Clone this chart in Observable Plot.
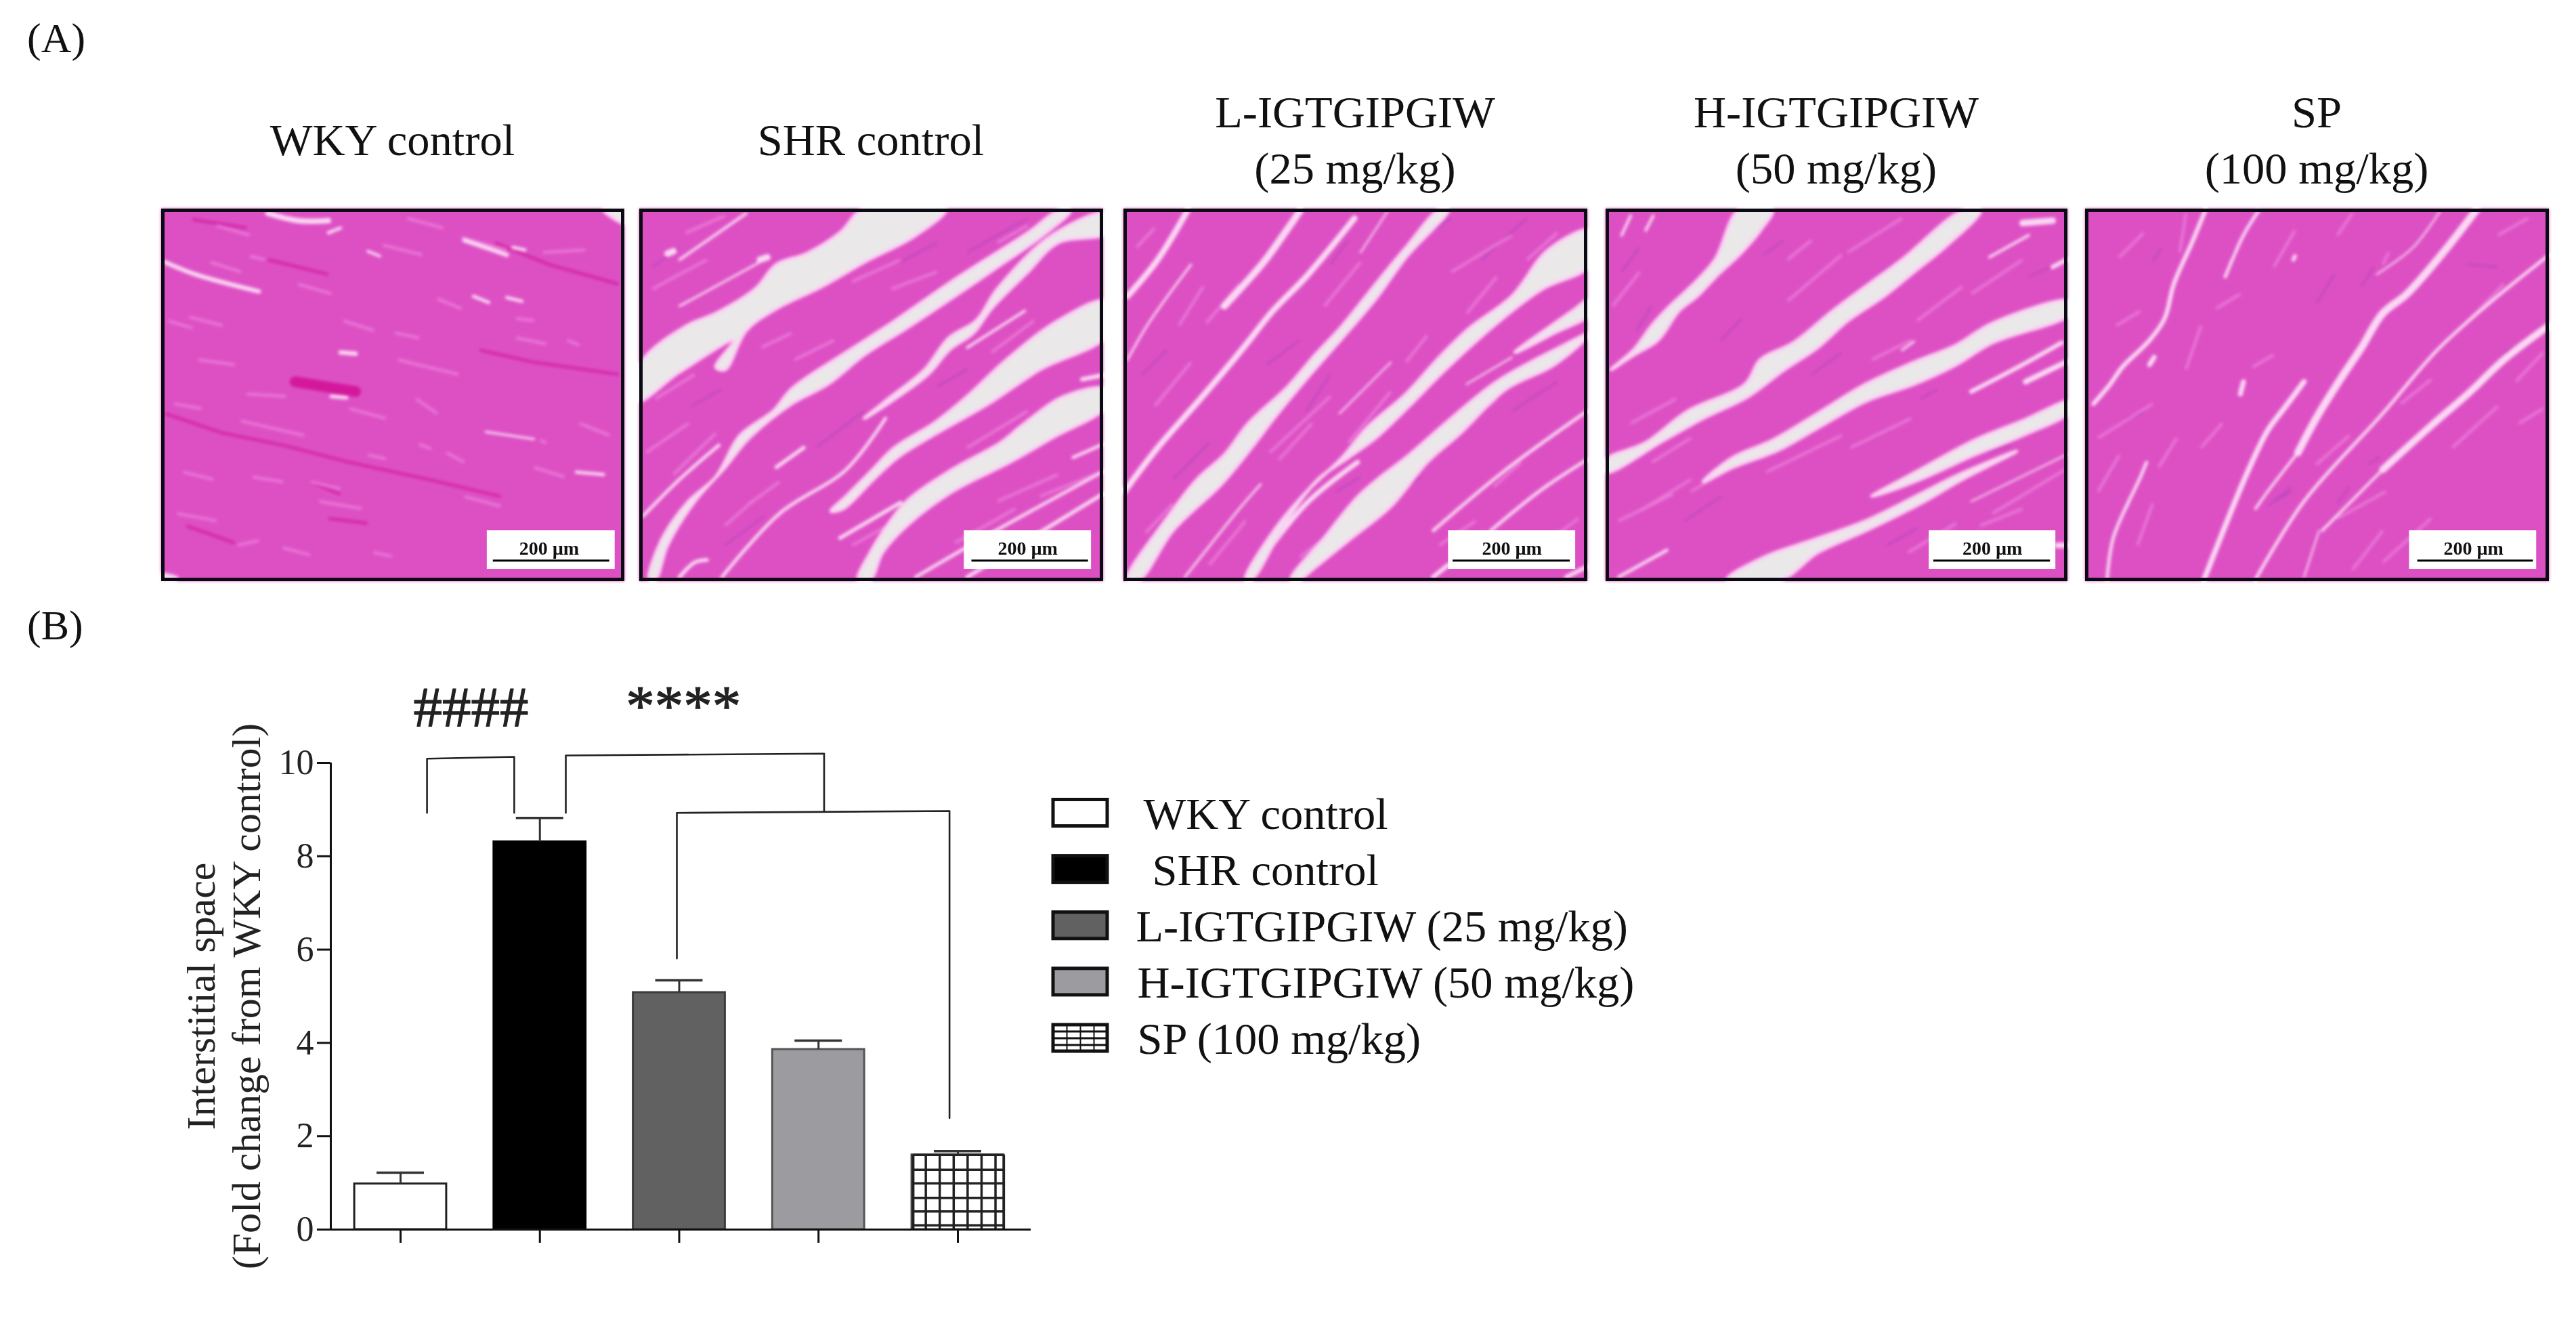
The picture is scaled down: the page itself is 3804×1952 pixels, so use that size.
<!DOCTYPE html>
<html><head><meta charset="utf-8">
<script src="https://cdn.jsdelivr.net/npm/d3@7"></script>
<script src="https://cdn.jsdelivr.net/npm/@observablehq/plot@0.6"></script>
<style>
html,body{margin:0;padding:0;background:#fff;width:3804px;height:1952px;overflow:hidden;font-family:"Liberation Serif",serif;color:#111}
.abs{position:absolute;white-space:nowrap;line-height:1;font-family:"Liberation Serif",serif}
.abs svg,svg{display:block}
</style></head><body>
<script>
// ---------- chart values ----------
const groups = ["WKY control","SHR control","L-IGTGIPGIW (25 mg/kg)","H-IGTGIPGIW (50 mg/kg)","SP (100 mg/kg)"];
const means = [0.98, 8.31, 5.08, 3.86, 1.60];
const upper = [1.22, 8.82, 5.34, 4.05, 1.68];
const barFill = ["#ffffff","#000000","#616161","#9c9ca0","#ffffff"];
const barStroke = ["#222","#000","#3c3c3c","#555","#444"];
const yTicks = [0,2,4,6,8,10];
const hatchX = [3.68,3.77,3.87,3.97,4.07,4.17,4.27,4.33];
const hatchY = [0.09,0.39,0.68,0.99,1.28];
const bracket1 = [[0.19,8.93],[0.19,10.09],[0.816,10.13],[0.816,8.93]];
const bracket2 = [[1.186,8.93],[1.186,10.16],[3.04,10.2],[3.04,8.95]];
const bracket3 = [[1.983,5.81],[1.983,8.93],[3.94,8.97],[3.94,2.39]];
const marks = [{t:"####",x:0.505,y:10.78},{t:"****",x:2.03,y:10.81}];
const yLabels = [{t:"Interstitial space",x:-1.335},{t:"(Fold change from WKY control)",x:-1.01}];
const legendLabels = [" WKY control","  SHR control","L-IGTGIPGIW (25 mg/kg)","H-IGTGIPGIW (50 mg/kg)","SP (100 mg/kg)"];
const legendTextX = [138,151,127,129,129];

// ---------- photo panels ----------
const panelTitles = [["WKY control"],["SHR control"],["L-IGTGIPGIW","(25 mg/kg)"],["H-IGTGIPGIW","(50 mg/kg)"],["SP","(100 mg/kg)"]];
const panelLeft = [238,944,1659,2371,3079];
const panelRight = [921,1628,2343,3052,3763];

const gaps1 = [[[1480,25],[1560,25],[1560,85]],[[10,1520],[70,1535],[10,1550]]];
const gaps2 = [
 [[25,650],[175,500],[270,450],[400,350],[470,250],[570,205],[680,120],[760,20],[1030,20],[930,130],[760,240],[620,340],[470,430],[370,520],[300,680],[270,670],[330,560],[150,690],[10,810]],
 [[1400,30],[1300,120],[1060,310],[850,490],[700,610],[520,760],[460,850],[350,950],[270,1120],[180,1220],[90,1380],[50,1540],[70,1540],[110,1400],[200,1220],[300,1080],[380,960],[520,820],[640,740],[760,620],[900,510],[1070,370],[1200,260],[1350,130],[1440,30]],
 [[1560,40],[1380,130],[1200,350],[1130,480],[1040,550],[960,680],[850,790],[760,880],[970,700],[1040,600],[1120,530],[1180,430],[1300,280],[1400,160],[1560,120]],
 [[1560,400],[1400,480],[1230,640],[1100,790],[990,900],[860,1000],[780,1100],[700,1200],[650,1260],[690,1250],[790,1130],[870,1040],[1000,940],[1170,820],[1340,680],[1560,540]],
 [[1560,760],[1420,790],[1280,910],[1210,980],[1050,1090],[900,1220],[830,1330],[780,1430],[740,1540],[780,1540],[820,1430],[900,1320],[1050,1180],[1240,1060],[1380,960],[1560,830]]
];
const gaps3 = [
 [[1060,25],[1090,25],[950,220],[850,390],[740,550],[620,720],[520,870],[440,1000],[340,1150],[180,1340],[70,1540],[30,1540],[160,1290],[260,1130],[350,1030],[430,900],[560,750],[650,620],[740,500],[850,330],[950,180]],
 [[1560,110],[1560,250],[1400,350],[1260,480],[1080,680],[960,830],[850,960],[760,1040],[660,1130],[560,1290],[440,1540],[420,1540],[520,1330],[630,1170],[740,1040],[820,920],[950,780],[1060,630],[1160,510],[1300,380],[1420,190]],
 [[1560,530],[1440,660],[1280,760],[1130,940],[1020,1060],[900,1240],[760,1380],[640,1500],[600,1540],[570,1540],[680,1370],[800,1190],[960,1030],[1090,890],[1250,730],[1440,600]],
 [[1310,610],[1500,440],[1560,390],[1560,450],[1440,530]]
];
const gaps4 = [
 [[35,680],[110,600],[170,500],[230,420],[300,340],[380,230],[460,25],[570,25],[530,110],[460,210],[390,290],[320,380],[260,440],[190,560],[110,620]],
 [[20,1050],[150,980],[290,850],[480,740],[530,640],[640,570],[770,440],[890,330],[1000,230],[1200,30],[1260,30],[1150,170],[1040,280],[940,380],[820,480],[720,590],[610,680],[490,790],[340,880],[210,970],[20,1100]],
 [[340,1140],[440,1040],[570,970],[720,860],[880,740],[1040,650],[1180,580],[1300,490],[1560,400],[1560,450],[1300,570],[1180,660],[1040,740],[880,810],[720,920],[590,1010],[440,1080]],
 [[420,1540],[540,1450],[700,1380],[880,1300],[1060,1190],[1190,1110],[1380,1015],[1200,1130],[1060,1230],[880,1340],[720,1430],[600,1540]],
 [[900,1200],[1060,1090],[1240,970],[1400,890],[1560,810],[1560,850],[1400,950],[1240,1030],[1060,1130]]
];
const gaps5 = [];

const seams1 = [
 {w:8,p:[[30,240],[130,290],[340,360]]},{w:10,p:[[370,40],[470,70],[570,70]]},{w:8,p:[[1020,150],[1160,210]]},
 {w:6,p:[[570,120],[610,100]]},{w:8,p:[[610,610],[660,615]]},{w:7,p:[[580,790],[630,795]]},{w:6,p:[[1180,180],[1220,190]]},{w:6,p:[[1160,385],[1210,400]]},{w:6,p:[[1050,380],[1100,405]]},{w:5,p:[[700,195],[740,215]]},{w:4,p:[[1090,935],[1250,965]]},{w:6,p:[[1390,1100],[1480,1110]]}
];
const seams2 = [
 {w:6,p:[[30,1280],[150,1130],[280,990]]},{w:5,p:[[150,230],[370,40]]},{w:4,p:[[150,420],[430,230]]},{w:7,p:[[470,1080],[560,1000]]},
 {w:6,p:[[290,1530],[480,1270],[700,1090],[830,880]]},{w:6,p:[[930,1530],[1180,1350],[1560,1090]]},{w:7,p:[[1100,1530],[1560,1180]]},{w:5,p:[[1100,590],[1290,440]]},
 {w:7,p:[[680,1370],[880,1225]]},{w:7,p:[[150,1530],[200,1470],[240,1460]]},{w:8,p:[[1480,720],[1560,700]]},{w:6,p:[[1450,1040],[1560,980]]},{w:12,p:[[110,205],[130,195]]},{w:12,p:[[415,230],[440,220]]}
];
const seams3 = [
 {w:11,p:[[30,380],[130,230],[230,25]]},{w:4,p:[[30,640],[100,490],[240,250]]},{w:11,p:[[20,1180],[130,1000],[250,830],[340,700],[420,580],[510,440],[620,300],[780,60]]},
 {w:13,p:[[350,420],[480,240],[550,120],[600,30]]},{w:3,p:[[800,200],[890,30]]},{w:6,p:[[1040,1340],[1270,1100],[1560,840]]},{w:6,p:[[1230,1340],[1400,1170],[1560,1040]]},
 {w:4,p:[[220,1530],[400,1250],[470,1150]]},{w:3,p:[[1150,740],[1300,630]]},{w:8,p:[[1040,1530],[1090,1480]]},{w:8,p:[[1480,1530],[1560,1480]]},{w:3,p:[[730,860],[900,650]]},{w:9,p:[[430,1530],[620,1230],[790,1060]]}
];
const seams4 = [
 {w:8,p:[[1230,770],[1400,660],[1530,570]]},{w:10,p:[[1410,730],[1560,640]]},{w:3,p:[[1230,1220],[1560,1020]]},{w:6,p:[[60,1530],[220,1420]]},
 {w:5,p:[[1290,220],[1420,130]]},{w:8,p:[[1500,260],[1560,220]]},{w:12,p:[[1400,80],[1500,70]]},{w:5,p:[[70,130],[100,50]]},{w:5,p:[[150,110],[175,50]]},{w:4,p:[[1000,600],[1040,565]]},{w:10,p:[[1515,1400],[1560,1400]]}
];
const seams5 = [
 {w:6,p:[[90,1540],[110,1370],[200,1120],[220,1060]]},{w:8,p:[[415,25],[370,160],[310,330],[280,470],[230,560],[140,670],[100,740],[45,820]]},
 {w:10,p:[[410,1540],[480,1320],[550,1110],[620,930],[680,830],[740,730]]},{w:14,p:[[1310,25],[1200,200],[1080,370],[1000,450],[930,590],[860,720],[780,880],[720,1020]]},{w:5,p:[[720,1020],[620,1180],[580,1250]]},
 {w:6,p:[[580,1540],[740,1220],[1000,860],[1180,600],[1350,410],[1560,200]]},{w:5,p:[[800,1340],[1000,1090]]},{w:13,p:[[1000,1090],[1160,910],[1290,770],[1400,640],[1560,490]]},
 {w:6,p:[[590,30],[540,130],[480,300]]},{w:3,p:[[1190,30],[1100,180],[980,290]]},{w:3,p:[[740,1530],[790,1340]]},{w:4,p:[[130,1300],[160,1230]]},{w:9,p:[[530,780],[540,730]]},{w:9,p:[[230,660],[245,630]]},{w:7,p:[[705,230],[710,215]]}
];

const pale1 = [[110,465,220,500],[180,240,280,280],[310,215,360,230],[750,170,880,210],[790,530,870,550],[930,390,1010,430],[1190,550,1290,575],[1190,470,1250,480],[280,890,490,950],[870,985,910,1005],[510,1140,610,1170],[320,1120,420,1140],[270,1400,340,1380],[420,1410,510,1440],[720,1430,780,1445],[1010,140,1160,190],[470,330,580,370],[700,1030,760,1045],[960,1020,1020,1060],[1270,970,1290,980],[40,480,120,510],[60,820,150,840],[300,780,430,790],[640,840,760,880],[860,800,930,860],[1020,1200,1140,1240],[1250,1080,1350,1120],[90,1100,190,1130],[540,1220,680,1250],[800,640,1000,700],[140,640,260,660],[1280,200,1420,190],[830,60,950,100],[200,90,310,130],[1360,560,1400,580],[620,480,720,520],[70,1270,200,1300],[1400,900,1500,950]];
const dark1 = [[1120,160,1300,250],[1300,250,1530,330],[1070,600,1250,650],[1250,650,1530,700],[30,860,220,940],[220,940,420,990],[420,990,640,1060],[640,1060,900,1130],[100,1320,260,1390],[370,230,570,290],[900,1130,1140,1200],[120,65,300,100],[570,1290,700,1310],[510,1140,610,1190]];
const pale2 = [[40,1020,180,900],[60,350,240,230],[850,350,1000,280],[1100,1000,1300,850],[1340,1200,1540,1100],[380,1230,480,1140],[530,640,660,560],[1200,1220,1400,1110],[70,800,200,700],[720,320,880,230],[130,1110,270,940],[420,590,520,530],[300,1320,390,1220],[1060,1390,1260,1250],[1180,610,1320,480],[800,840,910,740],[1400,640,1540,530],[720,1400,880,1290],[1200,160,1300,90],[170,120,300,50]];
const dark2 = [[1000,750,1100,680],[600,1000,760,850],[1100,200,1300,60],[300,1400,430,1280],[60,260,150,180],[1300,1000,1500,880],[880,240,1000,160],[190,830,290,760],[900,1000,1010,900]];
const pale3 = [[1100,280,1300,130],[120,830,240,650],[500,1020,700,790],[760,980,900,770],[290,490,400,330],[1050,1000,1250,800],[1350,230,1450,120],[300,1480,420,1300],[1150,450,1250,300],[680,420,800,240],[90,1350,180,1230],[530,1050,640,900],[1240,1160,1330,1060],[950,650,1020,540],[1060,1400,1180,1300],[1400,1400,1520,1290],[200,500,280,340],[60,180,120,100],[600,1450,700,1350]];
const dark3 = [[700,250,760,150],[1200,230,1350,60],[620,850,700,700],[900,1200,1000,1120],[1300,850,1450,730],[180,1130,300,980],[1000,140,1100,60],[490,660,600,560],[720,1180,800,1120],[80,700,160,600]];
const pale4 = [[620,400,800,210],[900,640,1030,560],[130,1260,300,1130],[300,1180,480,1050],[830,1000,1030,880],[550,1100,800,950],[1260,1320,1400,1250],[820,200,1000,60],[100,900,250,800],[1050,480,1200,340],[1230,370,1400,230],[620,230,700,150],[40,420,130,280],[170,1060,300,960],[60,1300,240,1190],[1020,1430,1180,1310],[1300,1270,1540,1090]];
const dark4 = [[540,210,610,150],[120,520,170,420],[1290,1020,1360,990],[1060,800,1120,760],[950,1400,1050,1330],[70,280,130,180],[400,560,470,470],[700,700,800,610],[1420,300,1530,240],[280,1300,400,1200]];
const pale5 = [[60,960,240,820],[130,220,210,120],[350,680,400,500],[570,670,640,620],[1230,1000,1380,830],[1440,730,1530,610],[900,1500,1000,1340],[190,1400,240,1230],[330,200,350,40],[1250,520,1400,330],[850,1290,1010,1180],[640,260,710,110],[850,130,900,40],[450,430,530,370],[1000,250,1020,200],[120,500,200,440],[400,1000,470,900],[260,1080,320,960],[1450,900,1530,840],[1000,1470,1160,1290],[1380,130,1480,60],[60,1180,130,1030],[780,1070,890,950],[1060,820,1160,720]];
const dark5 = [[780,410,840,290],[930,340,970,260],[640,1220,700,1180],[1280,250,1380,260],[150,880,210,860],[950,1070,990,1040],[1400,610,1440,590],[620,1240,700,1160],[240,240,270,180],[500,220,510,190],[850,1230,890,1160]];

const scaleText = "200 µm";
const panels = [
 {gaps:gaps1,seams:seams1,pale:pale1,dark:dark1},
 {gaps:gaps2,seams:seams2,pale:pale2,dark:dark2},
 {gaps:gaps3,seams:seams3,pale:pale3,dark:dark3},
 {gaps:gaps4,seams:seams4,pale:pale4,dark:dark4},
 {gaps:gaps5,seams:seams5,pale:pale5,dark:dark5}
];

const serif = '"Liberation Serif", serif';
function place(el,left,top){el.style.position="absolute";el.style.left=left+"px";el.style.top=top+"px";document.body.appendChild(el);return el;}
function text(s,size,x,baseline,anchor){
  const d=document.createElement("div");d.className="abs";d.textContent=s;d.style.fontSize=size+"px";
  d.style.left=x+"px";d.style.top=(baseline-0.8375*size)+"px";
  if(anchor==="middle")d.style.transform="translateX(-50%)";
  d.style.position="absolute";document.body.appendChild(d);return d;
}
text("(A)",62,40,77);
text("(B)",62,40,944);

panelTitles.forEach((lines,i)=>{
  const c=(panelLeft[i]+panelRight[i])/2;
  const bases=lines.length===1?[230]:[189,272];
  lines.forEach((s,j)=>text(s,66.5,c,bases[j],"middle"));
});

// photo panels
panels.forEach((pn,i)=>{
  const w=panelRight[i]-panelLeft[i]+1,h=550;
  const polys=pn.gaps.flatMap((p,k)=>p.map(([x,y])=>({x,y,k})));
  const lines=pn.seams.flatMap((s,k)=>s.p.map(([x,y])=>({x,y,k,w:s.w})));
  const sw=pn.seams.map(s=>s.w);
  const svg=Plot.plot({
    width:w,height:h,margin:0,
    x:{domain:[18,1550],range:[0,w],axis:null},
    y:{domain:[22,1548],range:[0,h],axis:null},
    style:{background:"#dd50c4"},
    marks:[
      Plot.frame({fill:"#dd50c4",stroke:"none"}),
      Plot.link(pn.dark,{x1:d=>d[0],y1:d=>d[1],x2:d=>d[2],y2:d=>d[3],stroke:i===0?"#d21fa2":"#b546bb",strokeWidth:i===0?5:3,strokeOpacity:.75}),
      Plot.link(pn.pale,{x1:d=>d[0],y1:d=>d[1],x2:d=>d[2],y2:d=>d[3],stroke:"#ec80da",strokeWidth:4,strokeOpacity:.85}),
      ...pn.seams.map(s=>Plot.line(s.p,{x:d=>d[0],y:d=>d[1],stroke:"#fbd6f4",strokeWidth:s.w*0.8,strokeLinecap:"round",strokeLinejoin:"round",curve:"catmull-rom",clip:"frame"})),
      Plot.line(polys,{x:"x",y:"y",z:"k",fill:"#ebe8ea",stroke:"#fbd0f2",strokeWidth:5,strokeLinejoin:"round",curve:"catmull-rom-closed",clip:"frame"}),
      ...(i===0?[Plot.link([[460,730,660,770]],{x1:d=>d[0],y1:d=>d[1],x2:d=>d[2],y2:d=>d[3],stroke:"#d4189c",strokeWidth:16,strokeLinecap:"round"})]:[])
    ]
  });
  svg.style.overflow="hidden";
  svg.style.filter="blur(2.2px)";
  place(svg,panelLeft[i],308);
  const bar=Plot.plot({
    width:w,height:h,margin:0,
    x:{domain:[18,1550],range:[0,w],axis:null},
    y:{domain:[22,1548],range:[0,h],axis:null},
    style:{background:"transparent",filter:"blur(.6px)"},
    marks:[
      Plot.rect([[ [1095,1090,1090,1090,1088][i], [1518,1510,1510,1510,1508][i] ]],{x1:d=>d[0],x2:d=>d[1],y1:()=>1340,y2:()=>1498,fill:"#fff"}),
      Plot.ruleY([1463],{x1:[1115,1115,1105,1105,1115][i],x2:[1500,1500,1492,1492,1497][i],stroke:"#000",strokeWidth:3}),
      Plot.text([scaleText],{x:()=>1300,y:()=>1438,lineAnchor:"bottom",fontSize:28,fontWeight:"bold",fontFamily:serif,fill:"#111"})
    ]
  });
  place(bar,panelLeft[i],308);
  const f=document.createElement("div");
  f.style.cssText=`width:${w-10}px;height:${h-10}px;border:5px solid #0a0a12;filter:blur(.5px)`;
  place(f,panelLeft[i],308);
});

// bar chart
const rows=groups.map((g,i)=>({i,g,m:means[i],u:upper[i],f:barFill[i],s:barStroke[i]}));
const bracketLine=(b)=>Plot.line(b,{x:d=>d[0],y:d=>d[1],stroke:"#222",strokeWidth:2.6});
const chart=Plot.plot({
  width:1540,height:972,marginLeft:488,marginRight:18,marginTop:146,marginBottom:137,
  x:{domain:[-0.5006,4.525],axis:null},
  y:{domain:[0,10],axis:null},
  style:{fontFamily:serif,background:"transparent",color:"#222",overflow:"visible",filter:"blur(.5px)"},
  marks:[
    Plot.rectY(rows,{x1:d=>d.i-0.33,x2:d=>d.i+0.33,y1:()=>0,y2:"m",fill:"f",stroke:"s",strokeWidth:3}),
    Plot.ruleX(hatchX,{y1:0,y2:means[4],stroke:"#222",strokeWidth:3.5}),
    Plot.ruleY(hatchY.concat(means[4]),{x1:hatchX[0],x2:hatchX[hatchX.length-1],stroke:"#222",strokeWidth:3.5}),
    Plot.ruleX(rows,{x:"i",y1:"m",y2:"u",stroke:"#333",strokeWidth:3}),
    Plot.ruleY(rows,{y:"u",x1:d=>d.i-0.17,x2:d=>d.i+0.17,stroke:"#333",strokeWidth:3.5}),
    Plot.ruleY([0],{x1:-0.598,x2:4.525,stroke:"#111",strokeWidth:3}),
    Plot.ruleX([-0.5006],{y1:0,y2:10,stroke:"#111",strokeWidth:3}),
    Plot.axisY({ticks:yTicks,tickSize:20,tickPadding:5,fontSize:52,fontFamily:serif,label:null,stroke:"#111",strokeWidth:3,fill:"#222"}),
    Plot.axisX({ticks:[0,1,2,3,4],tickSize:20,tickFormat:()=>"",label:null,stroke:"#111",strokeWidth:3}),
    bracketLine(bracket1),bracketLine(bracket2),bracketLine(bracket3),
    Plot.text(marks,{x:"x",y:"y",text:"t",fontSize:85,lineAnchor:"bottom",fontFamily:serif,fill:"#222",stroke:"#222",strokeWidth:1.2}),
    Plot.text(yLabels,{x:"x",y:()=>5,text:"t",rotate:-90,fontSize:60,lineAnchor:"bottom",fontFamily:serif,fill:"#222"})
  ]
});
place(chart,0,980);

// legend
const legendRows=groups.map((g,i)=>({i,t:legendLabels[i].trim(),x:legendTextX[i],f:barFill[i]}));
const legend=Plot.plot({
  width:900,height:420,margin:0,
  x:{domain:[0,900],range:[0,900],axis:null},
  y:{domain:[0,4],range:[30,362.5],axis:null},
  style:{fontFamily:serif,background:"transparent",overflow:"visible",filter:"blur(.5px)"},
  marks:[
    Plot.rect(legendRows,{x1:()=>5,x2:()=>85,y1:d=>d.i-0.235,y2:d=>d.i+0.235,fill:"f",stroke:"#111",strokeWidth:5}),
    Plot.ruleX([25,45,65],{y1:3.77,y2:4.23,stroke:"#111",strokeWidth:2}),
    Plot.ruleY([3.88,4,4.12],{x1:5,x2:85,stroke:"#111",strokeWidth:3}),
    Plot.text(legendRows,{x:"x",y:"i",text:"t",textAnchor:"start",lineAnchor:"bottom",dy:23,fontSize:66.5,fontFamily:serif,fill:"#111"})
  ]
});
place(legend,1550,1170);
</script>
</body></html>
